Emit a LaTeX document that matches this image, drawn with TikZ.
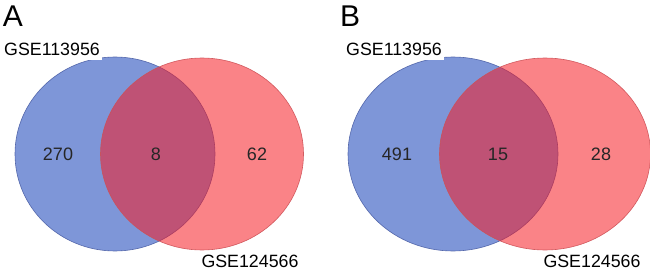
\documentclass[tikz,border=0pt]{standalone}
\usepackage{fontspec}
\setmainfont{Liberation Sans}
\usetikzlibrary{shapes.geometric, positioning}
\definecolor{mBlue}{RGB}{40,80,190}
\definecolor{mBlueEdge}{RGB}{75,95,165}
\definecolor{mRed}{RGB}{246,25,34}
\definecolor{mRedEdge}{RGB}{205,80,85}

\begin{document}
\begin{tikzpicture}[x=1pt, y=-1pt,
      setL/.style={ellipse, draw=mBlueEdge, fill=mBlue, fill opacity=0.6, draw opacity=0.9, line width=0.6pt, inner sep=0pt},
      setR/.style={ellipse, draw=mRedEdge, fill=mRed, fill opacity=0.54, draw opacity=0.9, line width=0.6pt, inner sep=0pt},
      cnt/.style={font=\fontsize{18}{20}\selectfont, text=black!85, inner sep=0pt},
      lbl/.style={font=\fontsize{17.8}{20}\selectfont, fill=white, inner xsep=2pt, inner ysep=4.5pt},
      pnl/.style={font=\fontsize{30}{32}\selectfont, inner sep=0pt}]
    \useasboundingbox (0,0) rectangle (650,270);
    % panel A
    \node[setL, minimum width=200pt, minimum height=194pt] (aL) at (115,154) {};
    \node[setR, minimum width=203pt, minimum height=192pt] (aR) at (202,154) {};
    \node[cnt] (aL0) at (58,154) {270};
    \node[cnt] (aLR) at (156,154) {8};
    \node[cnt] (aR0) at (257,154) {62};
    \node[lbl] (aLt) at (52,49) {GSE113956};
    \node[lbl, fill=none] (aRt) at (250,261.5) {GSE124566};
    \node[pnl] (pA) at (13,16) {A};
    % panel B
    \node[setL, minimum width=210pt, minimum height=194pt] (bL) at (453,154) {};
    \node[setR, minimum width=211pt, minimum height=192pt] (bR) at (545,154) {};
    \node[cnt] (bL0) at (397,154) {491};
    \node[cnt] (bLR) at (498,154) {15};
    \node[cnt] (bR0) at (601,154) {28};
    \node[lbl] (bLt) at (394,49) {GSE113956};
    \node[lbl, fill=none] (bRt) at (592,261.5) {GSE124566};
    \node[pnl] (pB) at (350,16) {B};
\end{tikzpicture}
\end{document}
